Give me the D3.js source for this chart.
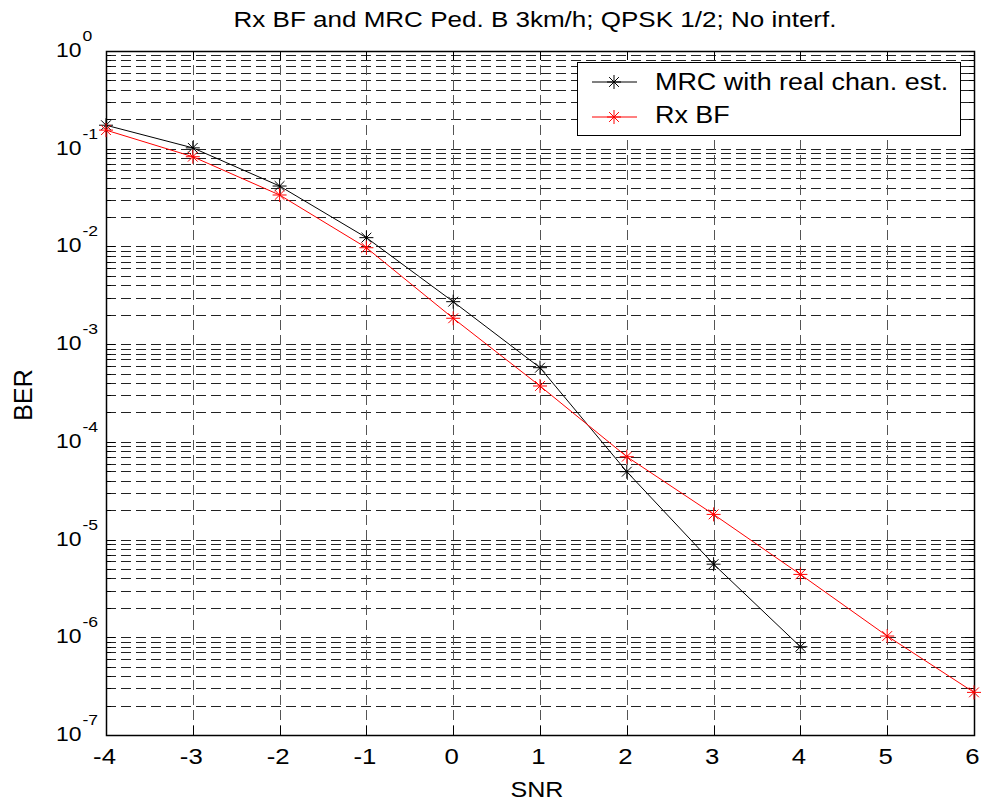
<!DOCTYPE html>
<html><head><meta charset="utf-8">
<script src="https://cdn.jsdelivr.net/npm/d3@7"></script>
<style>body{margin:0;background:#fff}svg{display:block}text{font-family:"Liberation Sans",Arial,sans-serif;fill:#000}</style>
</head><body>
<svg id="chart" width="982" height="804"></svg>
<script>
const snr = [-4,-3,-2,-1,0,1,2,3,4,5,6];
const mrcSnr = [-4,-3,-2,-1,0,1,2,3,4];
const mrcBer = [0.174,0.102,0.0415,0.0123,0.00272,5.74e-4,4.95e-5,5.6e-6,8.0e-7];
const bfSnr = [-4,-3,-2,-1,0,1,2,3,4,5,6];
const bfBer = [0.155,0.0828,0.0336,0.0097,0.00184,3.73e-4,7.05e-5,1.81e-5,4.4e-6,1.03e-6,2.73e-7];
const yExponents = [0,-1,-2,-3,-4,-5,-6,-7];
const seriesNames = ["MRC with real chan. est.","Rx BF"];
const seriesColors = ["#000000","#ff0000"];
const titleText = "Rx BF and MRC Ped. B 3km/h; QPSK 1/2; No interf.";

const SX = 1.17; // horizontal glyph stretch seen in the reference
function stretch(sel, target){
  sel.each(function(){
    const len = this.getComputedTextLength();
    d3.select(this).attr("textLength", target ? target : len*SX).attr("lengthAdjust","spacingAndGlyphs");
  });
}

const svg = d3.select("#chart");
const L=106,R=974,T=51,B=735;
const x = d3.scaleLinear().domain([-4,6]).range([L,R]);
const y = d3.scaleLog().domain([1e-7,1]).range([B,T]);

const majors = yExponents.map(e=>Math.pow(10,e));
const minors = [];
for (let e=-7;e<0;e++) for (let m=2;m<=9;m++) minors.push(m*Math.pow(10,e));

// grid
const g = svg.append("g");
g.selectAll(".hg").data(majors.concat(minors).filter(v=>v>1e-7&&v<1)).enter().append("line")
 .attr("x1",L).attr("x2",R).attr("y1",d=>Math.round(y(d))+0.5).attr("y2",d=>Math.round(y(d))+0.5)
 .attr("stroke","#222").attr("stroke-width",1).attr("stroke-dasharray","10,5");
g.selectAll(".vg").data(snr.slice(1,-1)).enter().append("line")
 .attr("y1",B).attr("y2",T).attr("x1",d=>Math.round(x(d))+0.5).attr("x2",d=>Math.round(x(d))+0.5)
 .attr("stroke","#555").attr("stroke-width",1).attr("stroke-dasharray","10,5");

// x axis labels
const xAxisB = d3.axisBottom(x).tickValues(snr).tickSize(0).tickPadding(13).tickFormat(d=>String(d));
const ax = svg.append("g").attr("transform",`translate(-2,${B})`).call(xAxisB);
ax.select(".domain").remove();
ax.selectAll("text").attr("font-size",22).attr("font-family","Liberation Sans, Arial, sans-serif").call(stretch);

// ticks inside
const tk = svg.append("g").attr("stroke","#000").attr("stroke-width",1);
snr.forEach(v=>{
  const xv=Math.round(x(v))+0.5;
  tk.append("line").attr("x1",xv).attr("x2",xv).attr("y1",B).attr("y2",B-9);
  tk.append("line").attr("x1",xv).attr("x2",xv).attr("y1",T).attr("y2",T+9);
});
majors.forEach(v=>{
  const yv=Math.round(y(v))+0.5;
  tk.append("line").attr("x1",L).attr("x2",L+9).attr("y1",yv).attr("y2",yv);
  tk.append("line").attr("x1",R).attr("x2",R-9).attr("y1",yv).attr("y2",yv);
});
minors.forEach(v=>{
  const yv=Math.round(y(v))+0.5;
  tk.append("line").attr("x1",L).attr("x2",L+5).attr("y1",yv).attr("y2",yv);
  tk.append("line").attr("x1",R).attr("x2",R-5).attr("y1",yv).attr("y2",yv);
});

// y labels: "10" fixed, exponent after it
const yl = svg.append("g");
yExponents.forEach(e=>{
  const yy = y(Math.pow(10,e))+6;
  yl.append("text").attr("x",56).attr("y",yy).attr("font-size",21).text("10").call(stretch,25.5);
  yl.append("text").attr("x",82.5).attr("y",yy-16).attr("font-size",15).text(String(e)).call(stretch);
});

// box
svg.append("rect").attr("x",L+0.5).attr("y",T+0.5).attr("width",R-L).attr("height",B-T)
 .attr("fill","none").attr("stroke","#000").attr("stroke-width",1.5);

// series
const line = d3.line().x(d=>x(d[0])).y(d=>y(d[1]));
function star(sel,color,r){
  sel.each(function(){
    const s=d3.select(this);
    const a=r*0.7;
    s.append("line").attr("x1",-r).attr("x2",r).attr("y1",0).attr("y2",0);
    s.append("line").attr("x1",0).attr("x2",0).attr("y1",-r).attr("y2",r);
    s.append("line").attr("x1",-a).attr("x2",a).attr("y1",-a).attr("y2",a);
    s.append("line").attr("x1",-a).attr("x2",a).attr("y1",a).attr("y2",-a);
  }).attr("stroke",color).attr("stroke-width",1);
}
const series = [
  {xs:mrcSnr, ys:mrcBer, color:seriesColors[0]},
  {xs:bfSnr, ys:bfBer, color:seriesColors[1]}
];
series.forEach(s=>{
  const pts = s.xs.map((v,i)=>[v,s.ys[i]]);
  svg.append("path").datum(pts).attr("d",line).attr("fill","none").attr("stroke",s.color).attr("stroke-width",1);
  svg.append("g").selectAll("g").data(pts).enter().append("g")
   .attr("transform",d=>`translate(${x(d[0])},${y(d[1])})`).call(star,s.color,7);
});

// legend
const lg = svg.append("g");
lg.append("rect").attr("x",577.5).attr("y",62.5).attr("width",383).attr("height",73).attr("fill","#fff").attr("stroke","#000").attr("stroke-width",1);
seriesNames.forEach((n,i)=>{
  const yy = i===0 ? 82 : 117;
  lg.append("line").attr("x1",592).attr("x2",637).attr("y1",yy).attr("y2",yy).attr("stroke",seriesColors[i]);
  lg.append("g").attr("transform",`translate(614,${yy})`).call(star,seriesColors[i],7);
  lg.append("text").attr("x",655).attr("y",i===0?90:123).attr("font-size",23).text(n).call(stretch);
});

// titles
svg.append("text").attr("x",535).attr("y",27).attr("text-anchor","middle").attr("font-size",22).text(titleText).call(stretch,603);
svg.append("text").attr("x",537).attr("y",797).attr("text-anchor","middle").attr("font-size",22).text("SNR").call(stretch,53);
svg.append("text").attr("transform","translate(32,395) rotate(-90)").attr("text-anchor","middle").attr("font-size",25).text("BER");
</script>
</body></html>
